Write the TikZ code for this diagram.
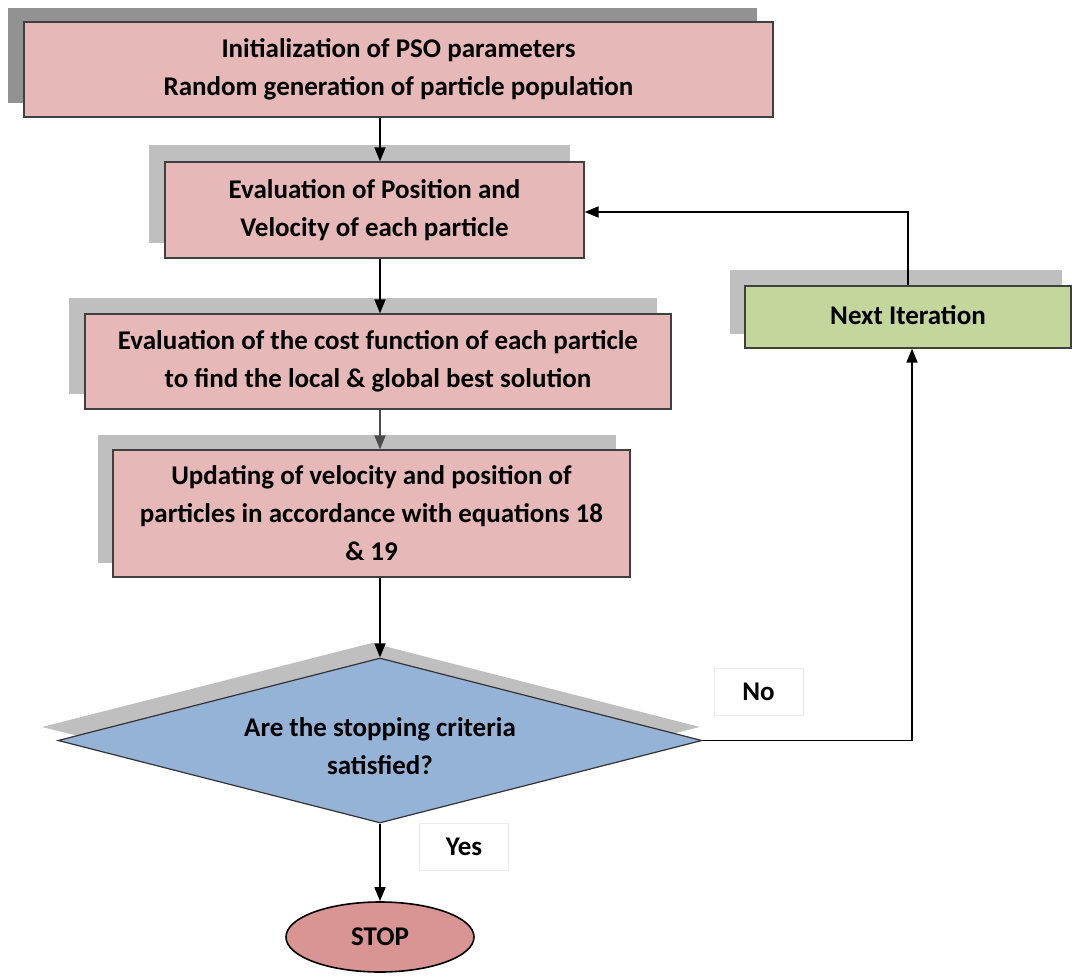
\documentclass[tikz,border=0pt]{standalone}
\usepackage{fontspec}
\setmainfont{Carlito}
\usetikzlibrary{shapes.geometric,arrows.meta}
\definecolor{boxpink}{HTML}{E6B8B7}
\definecolor{stoppink}{HTML}{D99594}
\definecolor{diablue}{HTML}{95B3D7}
\definecolor{nextgreen}{HTML}{C3D69B}
\definecolor{shadowlight}{HTML}{BFBFBF}
\definecolor{shadowdark}{HTML}{929292}
\tikzset{
  txt/.style={font=\fontsize{27}{38}\selectfont\bfseries, align=center},
  procbox/.style={txt, draw=black!75, line width=1.2pt, fill=boxpink, inner sep=0pt},
  arr/.style={line width=1.6pt, draw=black, -{Triangle[length=14pt,width=11pt]}},
  lbl/.style={txt, draw=black!8, fill=white, inner sep=0pt, minimum width=89pt, minimum height=47pt},
}
\begin{document}
\begin{tikzpicture}[x=1pt,y=-1pt]
\useasboundingbox (0,0) rectangle (1072,977);
% shadows
\fill[shadowdark] (8,8) rectangle (757,103);
\fill[shadowlight] (149,145) rectangle (570,243);
\fill[shadowlight] (69,298) rectangle (657,394);
\fill[shadowlight] (98,435) rectangle (616,563);
\fill[shadowlight] (730,270) rectangle (1062,334);
\fill[shadowlight] (42,727) -- (372,643) -- (700,727) -- (372,808) -- cycle;
% boxes
\node[procbox, minimum width=749pt, minimum height=95pt] (b1) at (398.5,69.5)
  {Initialization of PSO parameters\\Random generation of particle population};
\node[procbox, minimum width=419pt, minimum height=96pt] (b2) at (374.5,210)
  {Evaluation of Position and\\Velocity of each particle};
\node[procbox, minimum width=586pt, minimum height=95pt] (b3) at (378,361.5)
  {Evaluation of the cost function of each particle\\to find the local \& global best solution};
\node[procbox, minimum width=517pt, minimum height=127pt] (b4) at (371.5,513.5)
  {Updating of velocity and position of\\particles in accordance with equations 18\\\& 19};
\node[procbox, fill=nextgreen, minimum width=326pt, minimum height=62pt] (nx) at (908,317)
  {\raisebox{3pt}{Next Iteration}};
\node[draw=black!80, line width=1.2pt, fill=diablue, shape=diamond, inner sep=0pt,
  minimum width=644pt, minimum height=165pt] (dia) at (380,740.5) {};
\node[txt] (diatext) at (380,746.5) {Are the stopping criteria\\satisfied?};
\node[procbox, fill=stoppink, shape=ellipse, line width=1.6pt, draw=black, minimum width=188pt, minimum height=70pt] (stop) at (380,937)
  {STOP};
% labels
\node[lbl] (no) at (758.5,691.5) {No};
\node[lbl] (yes) at (464,846.5) {Yes};
% connectors
\draw[arr] (b1.south -| dia.north) -- (b2.north -| dia.north);
\draw[arr] (b2.south -| dia.north) -- (b3.north -| dia.north);
\draw[arr, draw=black!70] (b3.south -| dia.north) -- (b4.north -| dia.north);
\draw[arr] (b4.south -| dia.north) -- (dia.north);
\draw[arr] (dia.south) -- (stop.north);
\coordinate (c1) at (912,740.5);
\draw[arr] (dia.east) -- (c1) -- (c1 |- nx.south);
\coordinate (c2) at (908,212);
\draw[arr] (nx.north -| c2) -- (c2) -- (c2 -| b2.east);
\end{tikzpicture}
\end{document}
